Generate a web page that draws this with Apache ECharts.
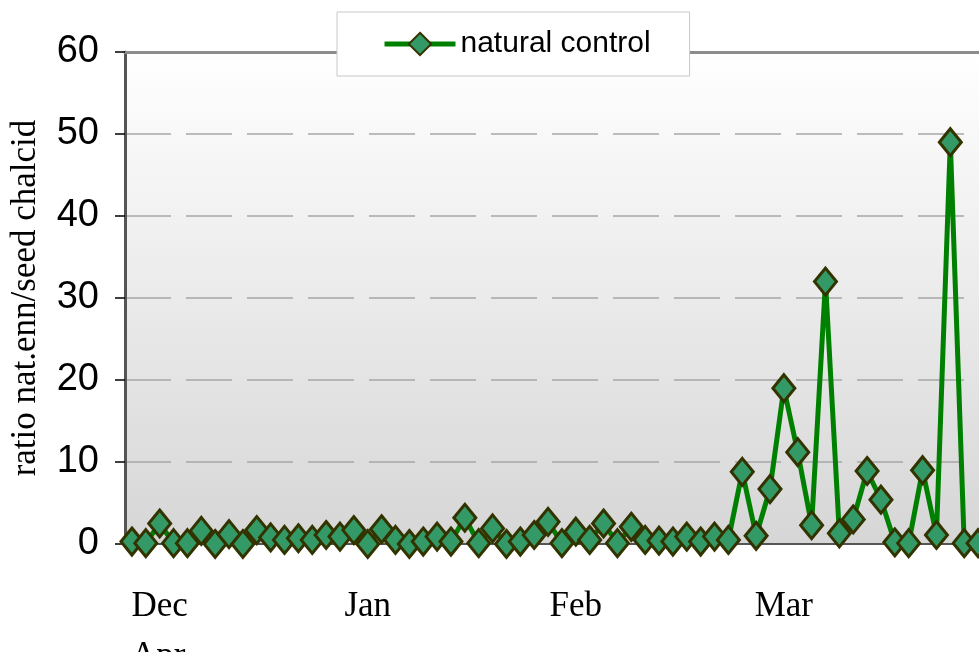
<!DOCTYPE html>
<html><head><meta charset="utf-8">
<script src="https://cdn.jsdelivr.net/npm/echarts@6/dist/echarts.min.js"></script>
<style>html,body{margin:0;padding:0;background:#fff}#c{width:979px;height:652px}</style>
</head><body><div id="c"></div>
<script>
const seriesName = 'natural control';
const values = [0.3,0.1,2.5,0.1,0.1,1.6,0,1.2,0,1.7,0.8,0.5,0.7,0.5,1.1,0.9,1.7,0,1.8,0.5,0,0.3,0.9,0.3,3.2,0.1,1.9,0,0.3,1.1,2.7,0.1,1.5,0.5,2.5,0.1,2.1,0.5,0.4,0.3,0.9,0.3,0.9,0.5,8.8,1,6.7,19,11.2,2.3,32,1.3,3,8.9,5.4,0.2,0.1,9,1.1,49,0.1,0.1];
const categories = values.map((v, i) => 'd' + (i + 1));
const monthLabels = ['Dec', 'Jan', 'Feb', 'Mar'];
const monthIndex = [2, 17, 32, 47];
const wrappedLabel = 'Apr';
const yTicks = [0, 10, 20, 30, 40, 50, 60];

const chart = echarts.init(document.getElementById('c'));
chart.setOption({
  animation: false,
  title: {
    text: wrappedLabel, left: 126, top: 634,
    textStyle: {fontFamily: '"Liberation Serif", serif', fontSize: 35, fontWeight: 'normal', color: '#000'}
  },
  legend: {
    data: [seriesName], left: 337, top: 12,
    backgroundColor: '#fff', borderColor: '#c8c8c8', borderWidth: 1,
    padding: [17, 39, 17, 45],
    itemWidth: 71, itemHeight: 28, itemGap: 6,
    lineStyle: {width: 5},
    textStyle: {fontFamily: '"Liberation Sans Narrow", "Liberation Sans", sans-serif', fontSize: 30, color: '#000'}
  },
  grid: {
    left: 125, top: 52, width: 860, bottom: 108, show: true, borderWidth: 0,
    outerBoundsMode: 'none', containLabel: false,
    backgroundColor: new echarts.graphic.LinearGradient(0, 0, 0, 1, [
      {offset: 0, color: '#ffffff'}, {offset: 1, color: '#d6d6d6'}
    ])
  },
  xAxis: [{
    type: 'category', data: categories, boundaryGap: true,
    axisLine: {lineStyle: {color: '#555', width: 2}},
    axisTick: {show: false},
    axisLabel: {
      interval: (i) => monthIndex.indexOf(i) >= 0,
      formatter: (v, i) => { const k = monthIndex.indexOf(i); return k >= 0 ? monthLabels[k] : ''; },
      margin: 45, color: '#000',
      fontFamily: '"Liberation Serif", serif', fontSize: 35
    }
  }, {
    type: 'category', data: categories, position: 'top',
    axisLine: {lineStyle: {color: '#8c8c8c', width: 3}},
    axisTick: {show: false}, axisLabel: {show: false}
  }],
  yAxis: {
    type: 'value', min: 0, max: 60, interval: 10,
    name: 'ratio nat.enn/seed chalcid', nameLocation: 'middle', nameRotate: 90, nameGap: 82,
    nameTextStyle: {fontFamily: '"Liberation Serif", serif', fontSize: 35, color: '#000'},
    axisLine: {show: true, lineStyle: {color: '#555', width: 3}},
    axisTick: {show: true, length: 10, lineStyle: {color: '#000', width: 1.5}},
    axisLabel: {
      margin: 26, color: '#000', fontFamily: '"Liberation Sans", Arial, sans-serif', fontSize: 38,
      formatter: (v) => yTicks.indexOf(v) >= 0 ? String(v) : ''
    },
    splitLine: {show: true, lineStyle: {color: '#a6a6a6', width: 1.5, type: [46, 15]}}
  },
  series: [{
    name: seriesName, type: 'line', data: values,
    showAllSymbol: true,
    lineStyle: {color: '#008000', width: 5},
    symbol: 'diamond', symbolSize: [22, 27],
    itemStyle: {color: '#339966', borderColor: '#333300', borderWidth: 3},
    clip: false
  }]
});
</script></body></html>
